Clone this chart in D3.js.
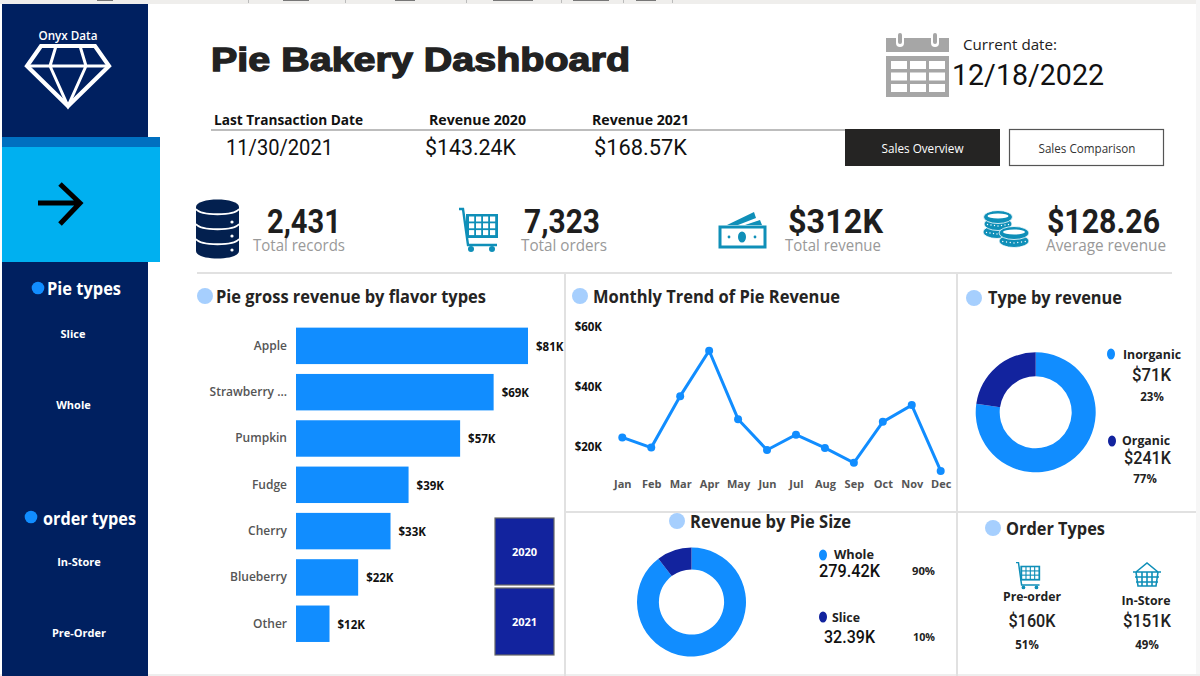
<!DOCTYPE html>
<html><head><meta charset="utf-8">
<script src="https://cdnjs.cloudflare.com/ajax/libs/d3/7.8.5/d3.min.js"></script>
<style>html,body{margin:0;padding:0;background:#fff;overflow:hidden}svg{display:block}
text{font-family:"Open Sans",sans-serif}</style></head><body>
<svg id="c" width="1200" height="676"></svg>
<script>
const flavors=["Apple","Strawberry ...","Pumpkin","Fudge","Cherry","Blueberry","Other"];
const flavorRevenue=[81,69,57.3,39.3,33,21.7,11.7];
const flavorLabels=["$81K","$69K","$57K","$39K","$33K","$22K","$12K"];
const months=["Jan","Feb","Mar","Apr","May","Jun","Jul","Aug","Sep","Oct","Nov","Dec"];
const monthlyRevenue=[23.1,19.7,36.9,52.1,29.2,18.9,24.0,19.6,14.6,28.3,33.9,11.9];
const monthTicks=[20,40,60];
const typeNames=["Organic","Inorganic"];
const typeRevenue=[241,71];
const sizeNames=["Whole","Slice"];
const sizeRevenue=[279.42,32.39];
const kpiValues=["2,431","7,323","$312K","$128.26"];
const kpiLabels=["Total records","Total orders","Total revenue","Average revenue"];

const BLUE="#118DFF",NAVY="#12239E",SIDE="#002060",TEAL="#0F8FB8",BUB="#A6CFFE",INK="#252423";
const svg=d3.select("#c");
function T(g,x,y,s,o={}){
  const t=g.append("text").attr("x",x).attr("y",y).text(s)
   .attr("font-size",o.size||12).attr("font-weight",o.w||400).attr("fill",o.fill||INK)
   .attr("text-anchor",o.a||"start").style("font-family",o.f||null);
  if(o.len)t.attr("textLength",o.len).attr("lengthAdjust","spacingAndGlyphs");
  if(o.stroke)t.attr("stroke",o.stroke).attr("stroke-width",o.sw||.5);
  return t;
}
const R=(x,y,w,h,f,g=svg)=>g.append("rect").attr("x",x).attr("y",y).attr("width",w).attr("height",h).attr("fill",f);
const DIN="Roboto";

// page frame with the cropped window ribbon at the top
R(0,0,1200,4,"#EFEEEC");R(1196,0,4,676,"#F6F6F6");R(0,674,1200,2,"#EEE");
[248,345,466,561,623,672].forEach(x=>R(x,0,1,3,"#BBB"));
[[97,16],[283,26],[395,20],[493,40],[573,36],[636,20]].forEach(a=>R(a[0],0,a[1],1,"#777"));
// sidebar
R(2,4,146,672,SIDE);R(2,137,158,125,"#00B0F0");R(2,137,158,10,"#0070C0");
T(svg,68,40,"Onyx Data",{size:12,w:600,fill:"#fff",a:"middle",len:59});
const dia=svg.append("g").attr("fill","none").attr("stroke","#fff").attr("stroke-linejoin","miter");
dia.append("path").attr("d","M41 46H95L109 66L68 106L27 66Z").attr("stroke-width",4.2);
dia.append("path").attr("d","M27 66H109M56 46L50 66L68 106L86 66L80 46").attr("stroke-width",3);
svg.append("path").attr("d","M38 203H80M60 184L80 203L60 224").attr("fill","none").attr("stroke","#000").attr("stroke-width",5);
svg.append("circle").attr("cx",38).attr("cy",288).attr("r",6.3).attr("fill",BLUE);
T(svg,47,295,"Pie types",{size:17,w:700,fill:"#fff",len:74});
T(svg,73,338,"Slice",{size:11,w:700,fill:"#fff",a:"middle"});
T(svg,73.5,409,"Whole",{size:11,w:700,fill:"#fff",a:"middle"});
svg.append("circle").attr("cx",31).attr("cy",517).attr("r",6.3).attr("fill",BLUE);
T(svg,43,525,"order types",{size:17,w:700,fill:"#fff",len:93});
T(svg,79,566,"In-Store",{size:11,w:700,fill:"#fff",a:"middle"});
T(svg,79,637,"Pre-Order",{size:11,w:700,fill:"#fff",a:"middle"});

// header
T(svg,211,71,"Pie Bakery Dashboard",{size:33,w:700,fill:"#222",f:"Liberation Sans",len:419,stroke:"#222",sw:1.3});
T(svg,214,125,"Last Transaction Date",{size:14,w:700,fill:"#111",len:149});
T(svg,429,125,"Revenue 2020",{size:14,w:700,fill:"#111",len:97});
T(svg,592,125,"Revenue 2021",{size:14,w:700,fill:"#111",len:97});
R(211,129,634,2,"#BDBDBD");
T(svg,226,155,"11/30/2021",{size:22,f:DIN,fill:"#111",len:107});
T(svg,425,155,"$143.24K",{size:22,f:DIN,fill:"#111",len:91});
T(svg,594,155,"$168.57K",{size:22,f:DIN,fill:"#111",len:93});
// calendar
const cal=svg.append("g");
R(886,38,63,14,"#A6A6A6",cal);
[900,935].forEach(x=>{cal.append("rect").attr("x",x-4).attr("y",33).attr("width",8).attr("height",14).attr("rx",4).attr("fill","#fff");
 cal.append("rect").attr("x",x-2).attr("y",33).attr("width",4).attr("height",11).attr("rx",2).attr("fill","#A6A6A6");});
R(886,56,63,41,"#A6A6A6",cal);
d3.range(3).forEach(r=>d3.range(3).forEach(c=>R(891+c*19,61+r*11.5,16,8,"#fff",cal)));
T(svg,963,50,"Current date:",{size:15,fill:"#222",len:94});
T(svg,952,85,"12/18/2022",{size:29,f:DIN,fill:"#111",len:152});
R(845,129,155,37,"#252423");
T(svg,922.5,153,"Sales Overview",{size:12,fill:"#fff",a:"middle",len:82});
svg.append("rect").attr("x",1009.5).attr("y",129.5).attr("width",154).attr("height",36).attr("fill","#fff").attr("stroke","#555").attr("stroke-width",1.2);
T(svg,1087,153,"Sales Comparison",{size:12,fill:"#333",a:"middle",len:97});

// KPI
const kpiX=[[267,74,253,92],[524,76,521,86],[788,95,785,96],[1047,113,1046,120]];
kpiValues.forEach((v,i)=>{const k=kpiX[i];
 T(svg,k[0],233,v,{size:34,w:700,f:DIN,fill:"#1E1E1E",len:k[1]});
 T(svg,k[2],251,kpiLabels[i],{size:16.5,fill:"#999",len:k[3]});});
// database icon
const db=svg.append("g");
db.append("path").attr("d","M196 207C196 197 239 197 239 207V251C239 261 196 261 196 251Z").attr("fill","#03204F");
[209,224,239].forEach(y=>db.append("path").attr("d",`M196 ${y}C201 ${y+7} 234 ${y+7} 239 ${y}`).attr("fill","none").attr("stroke","#fff").attr("stroke-width",2));
[222,236,250].forEach(y=>db.append("circle").attr("cx",232).attr("cy",y).attr("r",1.6).attr("fill","#fff"));
// cart icon
function cart(g,x,y,s){
 const c=g.append("g").attr("transform",`translate(${x},${y}) scale(${s})`);
 c.append("path").attr("d","M0 1H4L9 37H38").attr("fill","none").attr("stroke",TEAL).attr("stroke-width",2.4);
 c.append("rect").attr("x",7).attr("y",6).attr("width",32).attr("height",24).attr("fill",TEAL);
 d3.range(3).forEach(r=>d3.range(4).forEach(q=>R(10+q*7,8.5+r*6.8,5.2,5,"#fff",c)));
 [12,33].forEach(a=>c.append("circle").attr("cx",a).attr("cy",41).attr("r",3).attr("fill",TEAL));
}
cart(svg,459,208,1);
// money icon
const m=svg.append("g");
m.append("path").attr("d","M727 225L754 212L756 218L738 225ZM745 225L760 220L762 225Z").attr("fill",TEAL);
m.append("rect").attr("x",720).attr("y",227).attr("width",45).attr("height",20).attr("fill","none").attr("stroke",TEAL).attr("stroke-width",3);
m.append("ellipse").attr("cx",742).attr("cy",237).attr("rx",4).attr("ry",5.5).attr("fill",TEAL);
[729,755].forEach(x=>m.append("circle").attr("cx",x).attr("cy",237).attr("r",1.4).attr("fill",TEAL));
// coins icon
const co=svg.append("g");
function coin(x,y,rx,top){
 co.append("ellipse").attr("cx",x).attr("cy",y).attr("rx",rx).attr("ry",6.5).attr("fill",TEAL).attr("stroke","#fff").attr("stroke-width",.8);
 if(top)co.append("ellipse").attr("cx",x).attr("cy",y-1).attr("rx",rx-4).attr("ry",2.6).attr("fill","#fff");
 else d3.range(-3,4).forEach(k=>co.append("circle").attr("cx",x+k*(rx/4)).attr("cy",y+2-Math.abs(k)*.5).attr("r",.7).attr("fill","#fff"));
}
coin(997,232,14);coin(998,224,14);coin(998,217,14.5,true);
coin(1014,241,15);coin(1014,233,15,true);

// grid lines
[[197,272,975,2],[564,272,2,404],[956,272,2,404],[564,511,632,2]].forEach(a=>R(a[0],a[1],a[2],a[3],"#E1E1E1"));

// panel titles
function title(cx,cy,x,y,s,len){
 svg.append("circle").attr("cx",cx).attr("cy",cy).attr("r",8).attr("fill",BUB);
 T(svg,x,y,s,{size:17,w:700,fill:INK,len});
}
title(205,296,216,303,"Pie gross revenue by flavor types",270);
title(580,296,593,303,"Monthly Trend of Pie Revenue",247);
title(974,298,988,304,"Type by revenue",134);
title(677,521,690,528,"Revenue by Pie Size",161);
title(993,528,1006,535,"Order Types",99);

// bars
const bx=d3.scaleLinear().domain([0,81]).range([296,528]);
const by=d3.scaleBand().domain(flavors).range([323,646.6]).paddingInner(0.213).paddingOuter(0.1);
svg.append("g").selectAll("rect").data(flavors).join("rect")
 .attr("x",bx(0)).attr("y",d=>by(d)).attr("height",by.bandwidth())
 .attr("width",(d,i)=>bx(flavorRevenue[i])-bx(0)).attr("fill",BLUE);
const ya=svg.append("g").attr("transform","translate(287,0)").call(d3.axisLeft(by).tickSize(0).tickPadding(0));
ya.select(".domain").remove();
ya.selectAll("text").attr("font-size",12).attr("font-weight",600).attr("fill","#555").style("font-family",'"Open Sans"');
svg.append("g").selectAll("text").data(flavors).join("text")
 .attr("x",(d,i)=>bx(flavorRevenue[i])+8).attr("y",d=>by(d)+by.bandwidth()/2+5)
 .text((d,i)=>flavorLabels[i]).attr("font-size",11.5).attr("font-weight",700).attr("fill","#111");
// year slicers
[["2020",518],["2021",588]].forEach(([s,y])=>{
 svg.append("rect").attr("x",495).attr("y",y).attr("width",59).attr("height",67).attr("fill",NAVY).attr("stroke","#666").attr("stroke-width",1.2);
 T(svg,524.5,y+38,s,{size:11,w:700,fill:"#fff",a:"middle"});
});

// line chart
const lx=d3.scalePoint().domain(months).range([622.3,940.7]);
const ly=d3.scaleLinear().domain([20,60]).range([446.7,327]);
const pts=months.map((m,i)=>[lx(m),ly(monthlyRevenue[i])]);
svg.append("path").attr("d",d3.line()(pts)).attr("fill","none").attr("stroke",BLUE).attr("stroke-width",3);
svg.append("g").selectAll("circle").data(pts).join("circle").attr("cx",d=>d[0]).attr("cy",d=>d[1]).attr("r",4).attr("fill",BLUE);
const la=svg.append("g").attr("transform","translate(602,0)").call(d3.axisLeft(ly).tickValues(monthTicks).tickFormat(d=>`$${d}K`).tickSize(0).tickPadding(0));
la.select(".domain").remove();
la.selectAll("text").attr("font-size",11.5).attr("font-weight",700).attr("fill","#111").style("font-family",'"Open Sans"');
const ma=svg.append("g").attr("transform","translate(0,480)").call(d3.axisBottom(lx).tickSize(0).tickPadding(0));
ma.select(".domain").remove();
ma.selectAll("text").attr("font-size",11).attr("font-weight",700).attr("fill","#555").style("font-family",'"Open Sans"');

// donuts
function donut(cx,cy,r0,r1,vals){
 const arcs=d3.pie().sort(null)(vals);
 svg.append("g").attr("transform",`translate(${cx},${cy})`).selectAll("path").data(arcs).join("path")
  .attr("d",d3.arc().innerRadius(r0).outerRadius(r1)).attr("fill",(d,i)=>i?NAVY:BLUE);
}
donut(1035.7,412.3,36,60,typeRevenue);
donut(691.5,602,32.6,54.5,sizeRevenue);
const dot=(x,y,f)=>svg.append("ellipse").attr("cx",x).attr("cy",y).attr("rx",4).attr("ry",5.5).attr("fill",f);
// type legend
dot(1111,354,BLUE);T(svg,1123,359,typeNames[1],{size:12.5,w:700,fill:"#222",len:58});
T(svg,1151.5,381,"$71K",{size:18,f:DIN,w:500,fill:"#222",a:"middle",len:39});
T(svg,1152,401,"23%",{size:11.5,w:700,fill:"#222",a:"middle"});
dot(1112,441,NAVY);T(svg,1122,445,typeNames[0],{size:12.5,w:700,fill:"#222",len:48});
T(svg,1147.5,464,"$241K",{size:18,f:DIN,w:500,fill:"#222",a:"middle",len:47});
T(svg,1145,483,"77%",{size:11.5,w:700,fill:"#222",a:"middle"});
// size legend
dot(823,555,BLUE);T(svg,834,559,sizeNames[0],{size:12.5,w:700,fill:"#222",len:40});
T(svg,819,577,"279.42K",{size:18,f:DIN,w:500,fill:"#111",len:61});
T(svg,912,575,"90%",{size:11,w:700,fill:"#222",len:23});
dot(823,617,NAVY);T(svg,832,621.5,sizeNames[1],{size:12.5,w:700,fill:"#222",len:28});
T(svg,824,643,"32.39K",{size:18,f:DIN,w:500,fill:"#111",len:51});
T(svg,913,641,"10%",{size:11,w:700,fill:"#222",len:22});
// order types
cart(svg,1016,562,.62);
const bk=svg.append("g").attr("fill","none").attr("stroke",TEAL).attr("stroke-width",1.6);
bk.append("path").attr("d","M1136 572L1147 563L1158 572M1133 572H1161M1136 572L1138 586H1156L1158 572M1135 577H1159M1136 582H1158M1142 572V586M1147 572V586M1152 572V586");
T(svg,1032,601,"Pre-order",{size:12.5,w:700,fill:"#222",a:"middle",len:58});
T(svg,1146,605,"In-Store",{size:12.5,w:700,fill:"#222",a:"middle",len:49});
T(svg,1032,627,"$160K",{size:18,f:DIN,w:500,fill:"#222",a:"middle",len:47});
T(svg,1147,627,"$151K",{size:18,f:DIN,w:500,fill:"#222",a:"middle",len:48});
T(svg,1027,649,"51%",{size:11.5,w:700,fill:"#222",a:"middle"});
T(svg,1147,649,"49%",{size:11.5,w:700,fill:"#222",a:"middle"});
</script></body></html>
